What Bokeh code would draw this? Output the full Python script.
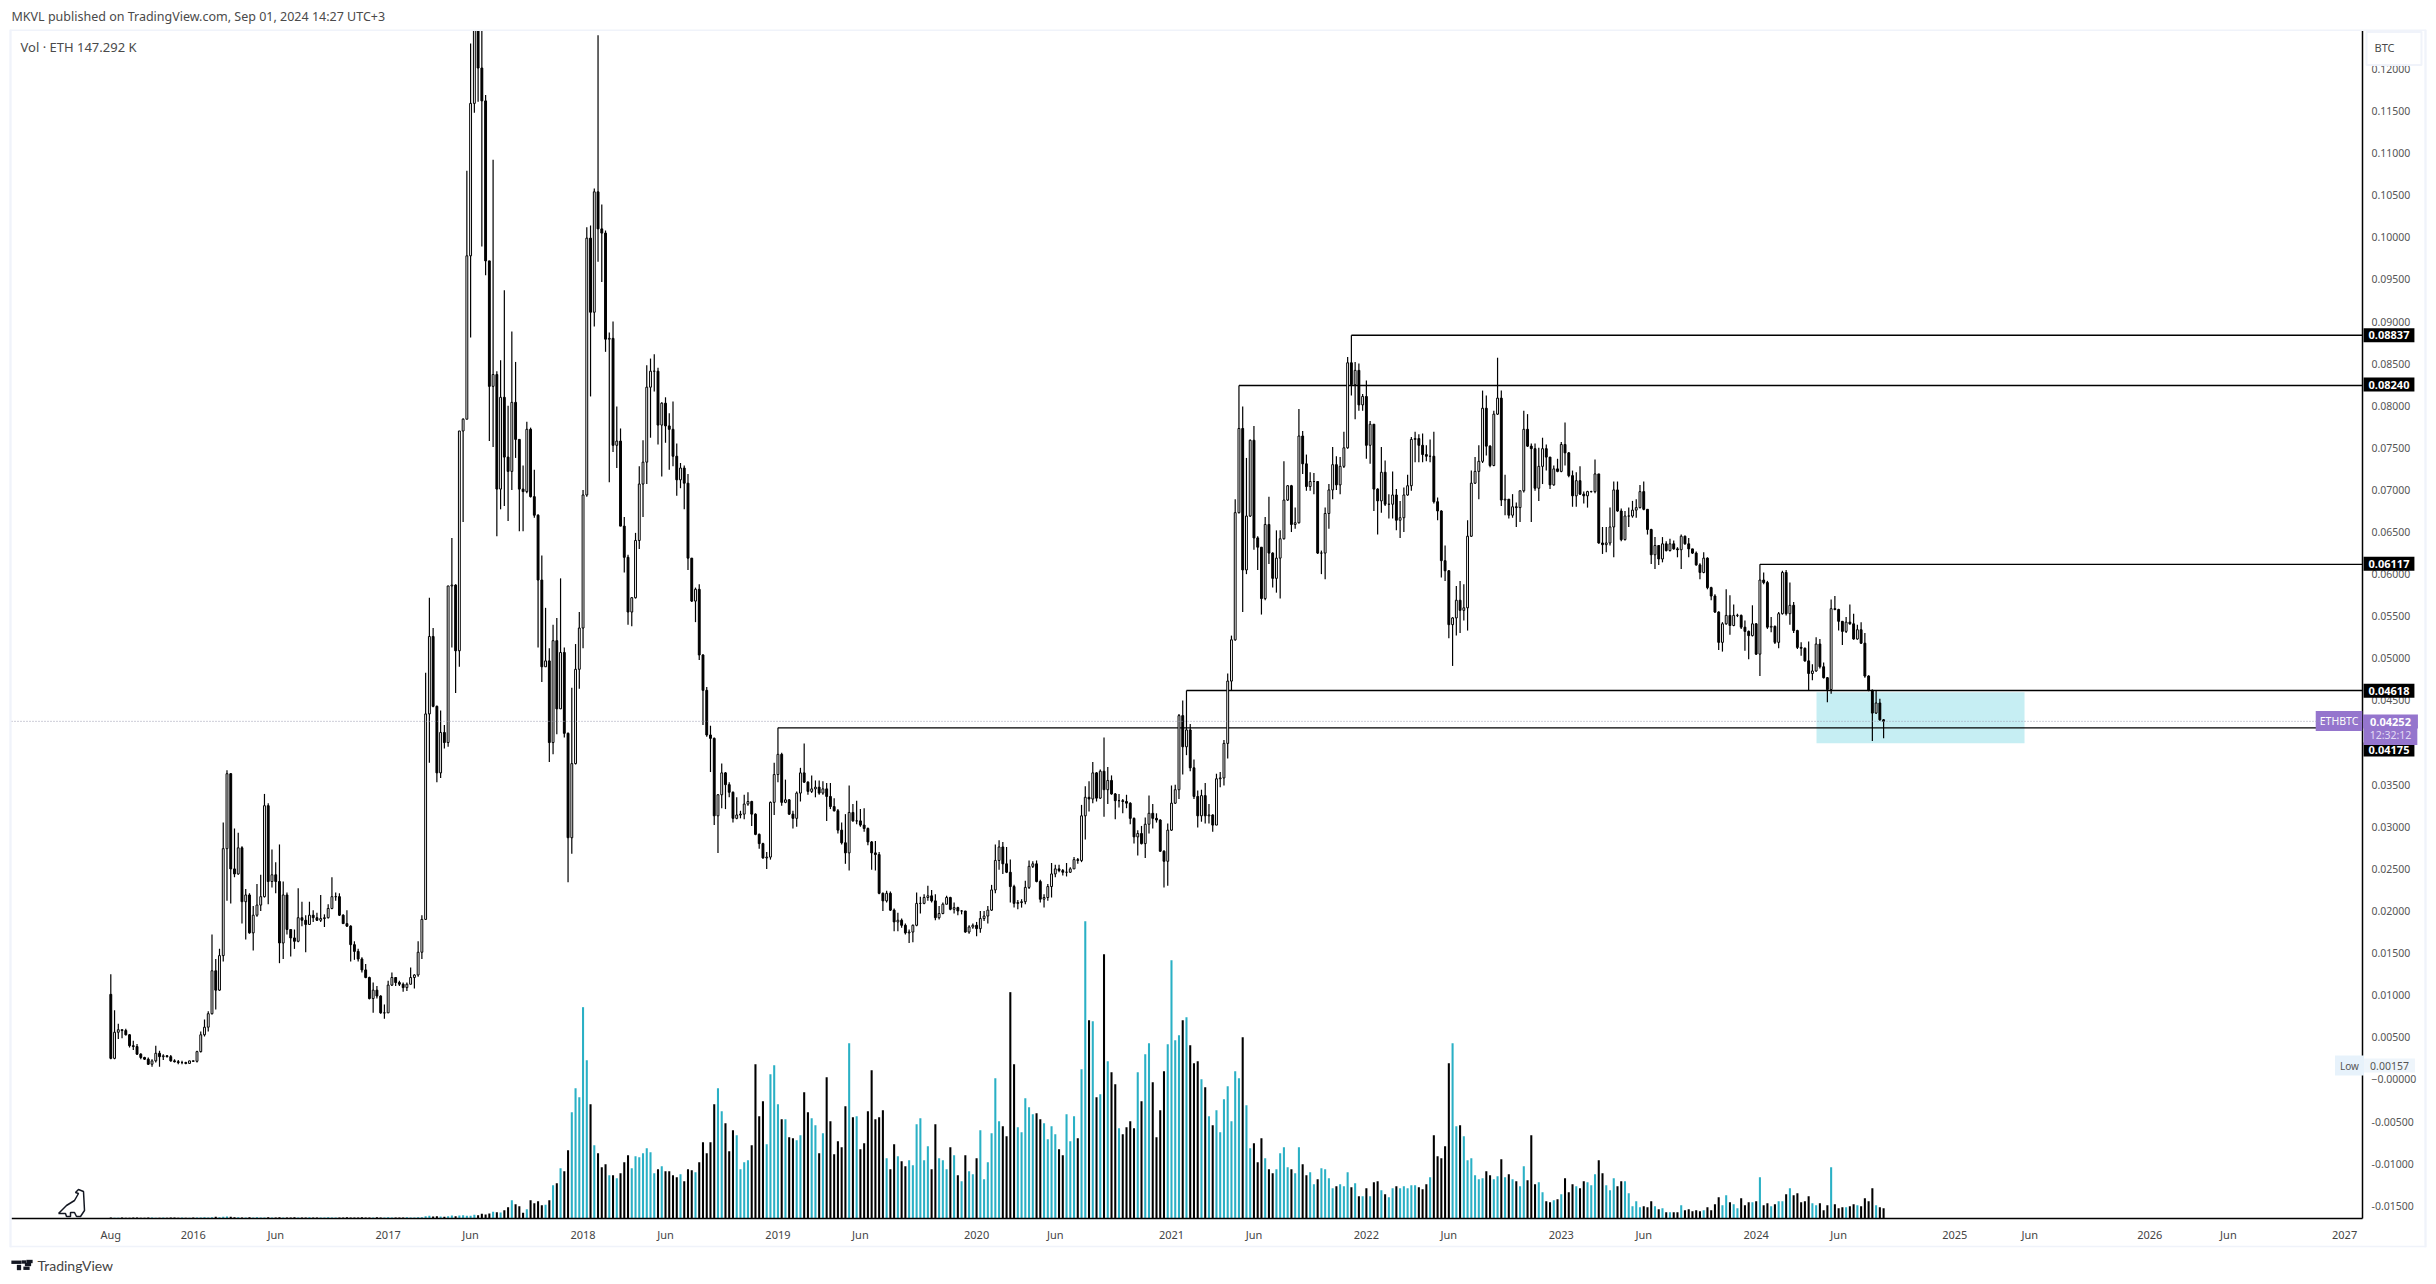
from bokeh.plotting import figure
from bokeh.models import (Range1d, FixedTicker, NumeralTickFormatter, ColumnDataSource, Label, Span)
from bokeh.embed import file_html
from bokeh.resources import INLINE

# ---------- weekly ETHBTC candles, in thousandths of BTC ----------
first_open = 10.1
close_m = [
 2.5,5.6,5.9,5.8,5.3,4.0,3.9,3.0,2.6,2.4,
 1.8,2.2,3.1,2.7,2.8,2.7,2.2,2.1,2.0,2.0,
 1.9,2.2,2.15,3.3,5.3,6.2,7.8,12.9,10.6,14.7,
 27.4,36.3,25.0,24.4,27.5,21.1,21.9,17.4,19.5,20.7,
 21.7,32.5,23.5,24.3,23.5,16.2,21.9,17.8,16.8,16.4,
 19.2,18.9,18.4,19.5,19.2,18.9,19.1,19.2,20.3,21.7,
 21.7,19.5,18.5,18.2,16.0,15.2,14.3,13.0,12.1,9.6,
 10.6,9.9,7.9,7.9,11.2,12.1,11.5,11.3,10.9,11.3,
 12.1,12.4,15.1,19.0,43.4,52.6,44.3,36.4,41.2,40.0,
 58.6,58.7,50.9,77.0,78.4,97.8,115.9,129,120.1,116.2,
 97.2,82.3,83.7,70.1,81.0,73.9,72.2,80.4,76.0,70.1,
 69.8,77.2,69.2,67.0,59.3,49.0,49.7,40.0,52.1,44.0,
 50.7,41.1,28.7,37.5,48.7,53.6,69.4,99.9,91.1,105.4,
 101.0,100.5,87.9,88.0,75.3,75.8,65.7,62.0,55.5,57.2,
 64.0,70.7,73.3,82.2,84.1,84.1,77.7,80.3,77.6,77.2,
 74.0,71.2,72.6,70.8,61.9,56.8,58.2,50.4,46.2,40.9,
 40.5,31.3,33.8,36.4,35.0,34.1,31.0,31.4,31.5,32.7,
 33.0,31.5,29.1,28.0,26.3,26.4,32.9,36.2,38.6,32.9,
 33.2,31.5,31.0,34.0,36.4,35.3,34.2,34.5,34.7,34.0,
 34.5,33.6,32.4,31.9,29.6,28.1,26.9,31.7,30.7,30.7,
 30.2,29.8,28.2,26.9,26.7,22.1,21.2,22.1,20.1,18.7,
 18.9,18.3,17.4,17.5,18.3,20.9,20.9,21.6,21.8,21.2,
 19.2,19.7,20.8,21.6,20.2,20.4,20.0,20.0,17.5,18.1,
 18.3,17.9,19.1,19.4,20.1,22.5,26.0,27.6,25.6,24.6,
 22.9,20.9,21.0,21.1,22.8,25.3,25.6,23.5,21.4,21.6,
 22.9,24.4,25.0,24.8,24.6,24.6,25.0,26.1,26.0,31.3,
 33.5,33.3,36.4,33.4,36.6,34.4,35.5,33.9,33.1,33.1,
 33.0,32.8,31.0,28.8,29.2,28.0,30.3,31.6,31.0,30.8,
 27.1,25.9,29.6,32.8,34.4,43.2,39.5,41.5,37.0,33.6,
 31.3,33.7,31.3,31.4,30.2,35.7,35.8,39.9,47.3,52.2,
 67.3,77.3,60.5,66.9,75.9,64.3,63.2,57.1,65.9,62.5,
 59.5,61.9,64.2,68.8,70.5,65.9,66.1,76.4,73.1,70.4,
 71,71,62.5,62.5,67.2,70,73.0,70.6,72.8,75,
 85.1,82.5,84.2,80.1,81.1,75.3,77.8,70.1,68.7,72.1,
 68.3,68.3,69.4,66.4,66.7,69.4,70.5,76,76.1,75.3,
 74.2,74,74,68.6,67.5,61.6,60.4,54,54.8,56.9,
 55.7,56,64.5,70.8,72.2,73.4,79.7,75.2,72.9,79,
 80.9,68.8,68.9,67,68.0,67.9,69.9,77.2,75.2,74.9,
 70.2,72.8,74.9,73.9,70.6,72.5,72.2,75.4,74.4,71.7,
 69.3,71.1,69.5,69.3,69.8,69.8,71.9,63.7,63.5,63.7,
 65.6,70,67.5,64.1,66.9,66.9,67.6,67.9,69.8,67.7,
 65.3,62.3,63.4,61.8,63.6,62.8,63.6,63,62.9,64.5,
 63.6,63,62.5,61.1,60.2,61.9,58.4,57.4,55.5,51.9,
 54.1,55.1,53.9,55.1,55.1,53.7,53.2,52.7,54.1,50.5,
 59.3,59,53.7,53.8,51.9,55.3,60.2,55.3,56.3,53.3,
 51.3,51.2,49.7,48.2,48.5,51.7,49,47.7,46.3,55.9,
 55.8,54.4,53.2,54.3,54.1,52.3,53.4,51.8,47.9,46.2,
 43.5,44.7,42.7,42.52]

high_m = [
 12.5,8.2,6.6,5.9,6.0,5.4,4.6,4.2,3.1,2.7,
 2.6,2.4,4.0,3.4,3.0,2.9,2.9,2.4,2.3,2.2,
 2.1,2.2,2.2,3.4,5.7,7.1,8.1,17.2,14.3,15.5,
 30.5,36.7,36.4,29.8,29.3,27.7,22.6,22.1,20.6,23.2,
 24.3,33.9,32.8,27.3,25.8,27.9,23.5,22.2,17.8,17.8,
 22.7,21.1,19.5,21.1,20.1,19.8,21.9,19.6,20.8,24.0,
 22.2,22.1,19.6,20.1,18.3,16.4,15.5,14.5,13.7,12.2,
 11.5,11.1,10.0,8.9,11.7,12.7,12.1,11.7,11.5,11.5,
 13.3,12.5,16.4,19.5,48.3,57.2,53.6,44.4,43.8,42.1,
 58.6,64.3,58.8,77.0,78.5,107.9,123.0,134,135,126,
 116.9,97.2,109.2,84.1,85.4,93.7,80.0,88.8,85.2,76.0,
 72.9,78.1,77.4,72.4,67.1,62.2,56.0,51.2,54.0,54.8,
 59.5,51.3,41.2,46.5,51.7,55.5,70.0,101.2,101.4,105.8,
 124.0,103.9,100.8,88.7,90.0,79.9,77.3,66.8,62.3,57.3,
 64.9,72.8,75.9,84.8,85.6,86.1,84.5,80.4,81.0,79.1,
 80.5,75.5,73.2,72.9,71.9,61.9,58.4,58.8,50.5,46.6,
 42.0,40.6,33.9,37.5,36.5,35.3,34.2,33.5,31.9,33.8,
 34.1,33.1,31.6,29.2,28.1,27.0,33.0,37.6,41.75,38.8,
 35.6,33.3,31.9,34.2,37.0,39.9,35.4,36.1,35.5,35.5,
 35.4,35.2,35.2,33.4,32.1,30.5,31.5,34.9,32.7,33.1,
 32.1,32.2,29.9,28.3,28.3,27.0,22.2,22.4,22.3,20.3,
 19.8,19.1,18.5,17.8,18.4,22.2,21.7,22.0,23.0,22.5,
 22.0,20.6,21.0,21.8,21.7,21.0,20.5,20.1,20.0,18.3,
 18.5,18.7,20.0,20.0,20.6,23.1,27.9,28.4,28.2,27.6,
 26.1,23.1,21.3,21.4,23.6,26.0,25.9,26.0,23.7,22.0,
 23.2,25.7,25.5,25.5,25.0,25.7,25.2,26.4,26.3,32.6,
 34.8,35.4,37.7,36.5,36.8,40.6,37.1,36.1,34.0,33.9,
 33.3,33.8,32.9,31.1,29.6,30.1,31.1,33.7,32.7,31.6,
 30.9,27.2,30.4,34.9,35.0,43.4,45.0,46.18,42.2,38.0,
 34.3,34.4,35.2,32.7,31.5,36.3,36.5,40.3,48.2,52.7,
 68.9,82.4,79.9,73.8,76.0,77.6,64.5,63.2,66.8,69.2,
 62.6,65.2,65.2,73.4,70.6,70.6,67.9,79.6,77.0,74.2,
 72.1,72.0,71.0,62.8,67.9,70.7,75.1,74.0,73.9,76.9,
 85.8,88.37,85.2,85.0,81.4,83.0,78.2,77.8,70.2,75.1,
 73.5,69.5,72.2,70.1,68.7,70.3,71.8,76.3,76.9,76.6,
 76.7,75.3,76.0,76.9,69.1,67.6,63.4,60.5,54.9,58.6,
 59.2,58.8,66.4,72.3,73.9,75.3,81.8,81.2,75.3,79.4,
 85.7,81.8,71.8,68.9,69.5,68.5,69.9,79.4,79.0,75.5,
 75.5,75.0,76.2,75.4,73.9,72.9,73.7,75.7,78.0,74.5,
 72.3,72.1,72.8,69.8,69.9,69.9,73.6,71.9,65.6,65.6,
 67.9,71.0,71.0,67.8,67.5,67.9,68.7,68.9,70.6,71.0,
 67.7,65.4,64.4,63.4,64.4,63.9,64.2,64.0,63.2,64.7,
 64.6,64.3,63.0,62.7,61.3,62.6,62.0,58.5,57.6,55.6,
 54.3,58.2,57.5,56.4,55.3,55.2,54.5,53.3,56.3,54.2,
 61.17,60.2,59.2,54.9,53.9,55.5,60.4,60.5,59.0,56.7,
 53.4,51.9,51.3,52.0,49.3,52.5,52.3,49.5,47.8,57.0,
 57.4,55.9,54.4,54.9,56.4,55.3,54.0,54.3,53.0,48.0,
 46.3,46.2,45.2,42.8]

low_m = [
 2.4,2.4,4.8,4.9,5.2,3.8,3.5,2.9,2.4,2.3,
 1.7,1.5,2.0,1.5,2.3,2.6,2.1,2.0,1.8,1.8,
 1.8,1.9,2.1,2.0,3.2,5.1,5.7,7.7,8.3,10.5,
 14.0,21.2,20.9,24.0,24.3,18.5,16.6,17.3,15.3,19.3,
 20.0,21.6,20.8,22.8,22.1,13.8,14.3,17.2,14.6,15.5,
 16.3,18.2,15.1,18.4,18.7,18.8,18.7,18.1,19.1,20.2,
 21.2,19.4,18.5,18.1,14.0,14.2,14.0,12.7,12.0,9.5,
 7.9,9.6,7.8,7.2,7.9,11.1,11.1,11.1,10.4,10.5,
 11.3,10.8,12.2,14.3,19.0,37.6,44.2,35.3,35.8,39.3,
 39.5,51.3,45.9,49.0,66.2,78.4,88.1,114.8,116.1,98.9,
 95.5,75.8,75.1,64.5,67.7,68.1,66.3,70.0,73.8,65.1,
 65.1,69.6,69.1,66.7,51.3,47.2,49.0,37.7,38.6,41.0,
 44.0,40.6,23.4,26.8,37.4,46.4,51.2,69.2,81.1,89.4,
 97.1,94.7,86.4,70.9,74.5,72.6,65.7,60.2,54.0,53.8,
 57.1,63.0,66.8,70.7,76.2,81.7,75.4,71.6,75.6,72.4,
 72.8,69.3,70.2,67.7,60.5,56.7,54.3,49.8,42.1,40.7,
 36.5,30.2,26.9,32.2,32.1,33.5,30.5,30.9,31.0,30.9,
 32.5,30.1,29.0,27.4,26.2,25.0,26.1,31.4,35.3,32.5,
 32.8,31.4,29.8,30.0,33.0,35.2,33.8,34.0,33.5,33.8,
 33.8,30.7,32.1,31.8,29.2,27.9,25.6,24.8,30.6,30.3,
 30.0,29.4,27.8,24.9,24.8,22.0,20.0,21.0,20.0,17.6,
 17.6,18.0,17.2,16.2,16.3,18.2,19.7,20.8,21.2,21.0,
 18.9,19.0,19.6,20.8,20.1,19.7,19.5,19.6,17.4,17.3,
 17.9,17.0,17.4,18.8,18.5,20.0,22.1,24.9,24.4,24.5,
 21.0,20.4,20.2,20.4,20.8,22.6,25.1,23.4,21.0,20.4,
 21.2,21.6,24.0,24.6,24.2,24.1,24.5,25.0,25.6,25.8,
 28.5,31.8,32.8,33.0,33.3,31.2,32.7,33.8,30.9,32.3,
 31.6,32.2,30.3,28.0,26.6,27.9,26.3,29.2,29.8,30.5,
 27.0,22.8,23.0,29.5,32.7,33.3,36.2,38.5,36.6,33.3,
 29.9,30.6,30.4,30.4,29.4,30.2,34.7,34.9,38.1,46.2,
 52.1,67.2,55.5,60.0,66.8,62.9,60.5,55.2,56.9,61.2,
 58.4,57.8,57.1,64.1,68.7,65.0,65.4,66.0,71.9,69.9,
 69.9,69.5,62.4,60.0,59.4,65.4,68.9,70.0,69.5,72.6,
 74.9,81.2,78.4,79.4,79.4,73.7,73.1,67.5,64.7,67.3,
 68.1,66.6,66.6,65.2,64.3,65.0,69.3,69.9,73.3,73.3,
 73.3,73.4,73.3,68.4,66.4,59.6,59.2,52.4,49.1,52.7,
 53.0,54.5,53.3,64.4,70.7,68.9,73.2,74.1,72.7,72.8,
 78.9,68.1,67.0,66.6,66.7,65.6,66.2,69.7,75.1,66.2,
 69.9,68.7,70.7,72.3,70.1,70.5,72.1,72.1,72.9,71.5,
 68.0,68.0,69.4,68.4,67.9,69.7,69.6,63.6,62.4,62.6,
 63.4,62.0,67.4,63.9,64.0,65.6,66.7,66.7,67.8,67.6,
 64.7,61.2,60.6,61.1,61.4,62.7,62.7,62.9,62.0,60.6,
 63.5,62.0,62.4,61.0,59.4,60.1,58.2,56.9,55.4,51.0,
 50.8,54.0,52.8,53.8,54.9,53.5,50.9,49.9,52.6,50.4,
 47.9,58.8,53.5,53.1,51.7,51.2,55.2,55.1,54.0,53.0,
 51.1,50.3,49.6,46.2,47.4,48.4,48.8,47.6,44.8,45.8,
 55.7,53.3,51.6,53.0,54.0,52.2,52.2,51.7,47.7,46.1,
 40.2,43.4,42.6,40.5]

# weekly volume, in units of about 4.9 K ETH
volume = [
 3,2,2,3,2,2,3,3,2,2,
 3,3,2,2,3,2,3,3,2,3,
 2,2,3,3,3,4,3,4,5,4,
 5,6,5,4,4,3,3,4,3,4,
 3,3,4,3,3,4,3,3,3,4,
 3,3,3,4,3,3,3,3,4,3,
 3,3,3,4,3,3,3,4,3,3,
 3,4,3,3,4,3,3,3,3,4,
 3,3,4,4,7,8,6,7,6,5,
 7,9,7,9,10,8,8,11,10,14,
 12,15,20,19,18,25,34,55,43,37,
 17,28,55,46,52,40,41,55,100,106,
 151,142,205,319,391,364,634,475,343,220,
 196,154,163,130,130,121,136,169,190,151,
 187,184,196,211,199,136,148,157,142,142,
 130,124,133,112,148,145,139,169,229,196,
 229,343,391,322,286,202,265,250,148,169,
 175,220,463,307,352,223,433,460,343,298,
 298,244,241,235,250,379,319,301,280,196,
 256,424,292,193,232,214,337,526,304,307,
 208,226,322,445,298,304,325,181,148,223,
 187,172,157,175,160,283,301,175,217,148,
 283,181,175,148,214,190,130,112,190,142,
 133,181,265,118,169,256,421,292,277,247,
 679,463,274,259,361,334,313,316,298,286,
 238,277,253,208,190,313,232,307,241,448,
 892,595,592,364,373,793,472,439,403,271,
 253,274,292,271,439,352,493,526,409,244,
 325,442,523,775,535,550,595,604,520,466,
 472,418,394,307,280,325,259,358,397,292,
 442,421,544,340,211,226,169,241,181,148,
 136,148,196,214,154,148,136,214,163,130,
 139,103,118,151,148,121,91,97,103,97,
 139,94,106,67,67,91,67,109,112,85,
 73,64,91,97,91,97,91,100,100,94,
 88,103,124,250,187,181,217,466,526,277,
 280,247,175,181,130,118,121,142,130,118,
 127,178,124,133,118,112,97,157,115,250,
 103,109,79,52,49,55,58,73,121,79,
 103,97,91,112,109,100,133,175,136,100,
 85,121,97,112,112,76,37,52,34,37,
 34,52,37,28,31,19,19,19,19,40,
 25,28,22,25,22,25,34,25,43,64,
 40,70,49,43,31,61,40,49,49,52,
 124,40,46,37,43,52,52,73,91,70,
 76,49,52,67,46,40,46,25,40,154,
 43,31,34,34,37,43,40,37,61,52,
 91,40,34,31]

assert len(close_m) == len(high_m) == len(low_m) == len(volume) == 474, (len(close_m), len(high_m), len(low_m), len(volume))

# ---------- axes and levels ----------
y_ticks = [-0.015,-0.01,-0.005,0.0,0.005,0.01,0.015,0.02,0.025,0.03,0.035,0.04,0.045,0.05,0.055,0.06,
           0.065,0.07,0.075,0.08,0.085,0.09,0.095,0.10,0.105,0.11,0.115,0.12]
x_tick_pos = [0,22,44,74,96,126,148,178,200,231,252,283,305,335,357,387,409,439,461,492,512,544,565,596]
x_tick_txt = ["Aug","2016","Jun","2017","Jun","2018","Jun","2019","Jun","2020","Jun","2021","Jun","2022",
              "Jun","2023","Jun","2024","Jun","2025","Jun","2026","Jun","2027"]
level_bars = [331, 301, 440, 287, 178]
level_prices = [0.08837, 0.08240, 0.06117, 0.04618, 0.04175]
level_texts = ["0.08837", "0.08240", "0.06117", "0.04618", "0.04175"]
last_price = 0.04252
zone_bars = (455.1, 510.6)
zone_prices = (0.03993, 0.04598)

# ---------- page layout (page pixels) ----------
FL, FR, FT, FB = 11, 2362, 30, 1218
BAR = 3.748
X0 = 110.3
XMIN = (FL - X0) / BAR
XMAX = (FR - X0) / BAR
PX = 8421.0
YTOP = (1078.9 - FT) / PX
YBOT = (1078.9 - FB) / PX

def X(px):
    return (px - X0) / BAR

def Y(py):
    return (1078.9 - py) / PX

p = figure(frame_width=FR - FL, frame_height=FB - FT, output_backend="svg", toolbar_location=None,
           x_range=Range1d(XMIN, XMAX), y_range=Range1d(YBOT, YTOP), y_axis_location="right",
           min_border_left=FL, min_border_top=FT, min_border_right=66, min_border_bottom=58,
           background_fill_color="white", border_fill_color="white", outline_line_color=None,
           tools="")
p.grid.visible = False
p.extra_y_ranges = {"vol": Range1d(0, (FB - FT) * 3)}

FONT = "Noto Sans"
ax = p.yaxis[0]
ax.ticker = FixedTicker(ticks=y_ticks)
ax.formatter = NumeralTickFormatter(format="0.00000")
ax.major_label_overrides = {0: "\u22120.00000"}
ax.major_tick_line_color = None
ax.minor_tick_line_color = None
ax.major_tick_out = 0
ax.major_label_standoff = 9
ax.axis_line_color = "black"
ax.axis_line_width = 1.5
ax.major_label_text_font = FONT
ax.major_label_text_font_size = "10.5px"
ax.major_label_text_color = "#555555"

bx = p.xaxis[0]
bx.ticker = FixedTicker(ticks=x_tick_pos)
bx.major_label_overrides = dict(zip(x_tick_pos, x_tick_txt))
bx.major_tick_line_color = None
bx.minor_tick_line_color = None
bx.major_tick_out = 0
bx.major_label_standoff = 8
bx.axis_line_color = "black"
bx.axis_line_width = 1.5
bx.major_label_text_font = FONT
bx.major_label_text_font_size = "11px"
bx.major_label_text_color = "#444444"

# ---------- data ----------
idx = list(range(len(close_m)))
open_m = [first_open] + close_m[:-1]
op = [v / 1000 for v in open_m]
cl = [v / 1000 for v in close_m]
hi = [max(h / 1000, o, c) for h, o, c in zip(high_m, op, cl)]
lo = [min(l / 1000, o, c) for l, o, c in zip(low_m, op, cl)]
up = [c >= o for o, c in zip(op, cl)]
src = ColumnDataSource(dict(
    i=idx, hi=hi, lo=lo,
    top=[max(o, c) for o, c in zip(op, cl)],
    bot=[min(o, c) for o, c in zip(op, cl)],
    fill=["white" if u else "black" for u in up],
    vol=volume,
    volc=["#2ab0c5" if u else "#000000" for u in up],
))

# zone behind everything
p.quad(left=[zone_bars[0]], right=[zone_bars[1]], bottom=[zone_prices[0]], top=[zone_prices[1]],
       fill_color="#c6eef3", line_color=None)

# volume
p.vbar(x="i", width=0.55, bottom=0, top="vol", source=src, fill_color="volc", line_color=None, y_range_name="vol")

# last price dotted line
p.add_layout(Span(location=last_price, dimension="width", line_color="#9a9ab0", line_width=1, line_dash="1 2"))

# horizontal levels
p.segment(x0=level_bars, y0=level_prices, x1=[XMAX] * 5, y1=level_prices, line_color="black", line_width=1.3)

# candles
p.segment(x0="i", y0="lo", x1="i", y1="hi", source=src, line_color="black", line_width=1.2)
p.vbar(x="i", width=0.5, bottom="bot", top="top", source=src, fill_color="fill", line_color="black", line_width=1)

# dinosaur mark
dino_x = [58, 66, 74, 78, 75, 78, 83, 84, 80, 76, 74, 70, 70, 66, 65, 58]
dino_y = [1213, 1205, 1200, 1193, 1192, 1189, 1191, 1210, 1216, 1216, 1212, 1212, 1216, 1216, 1213, 1213]
p.line([X(v) for v in dino_x], [Y(v) for v in dino_y], line_color="#131722", line_width=1.5)

# ---------- page furniture, in canvas pixels; labels in a side panel are not clipped to the frame ----------
def text(px, py, s, size="13px", color="#4a4a4a", align="left", style="normal", font=FONT, bg=None, pad=0, border=None):
    p.add_layout(Label(x=px, y=py, x_units="canvas", y_units="canvas", text=s, text_font=font, text_font_size=size,
                       text_color=color, text_align=align, text_baseline="middle", text_font_style=style,
                       background_fill_color=bg, padding=pad, border_line_color=border, border_line_width=2), "right")

def rect(l, r, t, b, color):
    w = max(int(round((r - l) / 2)), 0)
    h = max(int(round((b - t) / 2)) - 1, 0)
    text((l + r) / 2, (t + b) / 2, " ", "1px", color, "center", bg=color, pad=(w, h))

# chart border
rect(10, 2425, 29, 30.5, "#f0f3fa")
rect(10, 2425, 1245, 1247, "#f0f3fa")
rect(9, 11, 29, 1247, "#f0f3fa")
rect(2424, 2426, 29, 1247, "#f0f3fa")

text(11, 16, "MKVL published on TradingView.com, Sep 01, 2024 14:27 UTC+3", "12.5px", "#4a4a4a")
text(20, 46, "Vol · ETH  147.292 K", "13px", "#4a4a4a")

# BTC unit box
text(2366, 48, "BTC", "11px", "#4a4a4a", bg="white", pad=(8, 27, 8, 10), border="#f0f3fa")

# price badges
badge_y = [334.7, 384, 563.3, 690.3, 749]
for ty, s in zip(badge_y, level_texts):
    text(2388.5, ty, s, "11px", "white", "center", "bold", bg="black", pad=(5, 3))

# last price badge
text(2338.5, 720.5, "ETHBTC", "10.5px", "white", "center", bg="#9575cd", pad=(4, 3))
text(2390, 734.5, "12:32:12", "10.5px", "#e4dcf5", "center", bg="#9575cd", pad=(6, 3))
text(2390, 721, "0.04252", "11px", "white", "center", "bold", bg="#9575cd", pad=(7, 3))

# indicator low badge
text(2349, 1065, "Low", "10px", "#555555", "center", bg="#e7f2fb", pad=(5, 3))
text(2389, 1065, "0.00157", "10.5px", "#555555", "center", bg="#eef5fb", pad=(6, 3))

# TradingView logo
rect(11, 21, 1259.5, 1264, "#131722")
rect(16, 21, 1264, 1270, "#131722")
rect(22, 25, 1259.5, 1263.5, "#131722")
rect(26, 32, 1259.5, 1262.5, "#131722")
rect(24.5, 30.5, 1262.5, 1265.5, "#131722")
rect(23, 29, 1265.5, 1270, "#131722")
text(37, 1265, "TradingView", "14px", "#444444", font="Lato")

open("out.html", "w").write(file_html(p, INLINE))
